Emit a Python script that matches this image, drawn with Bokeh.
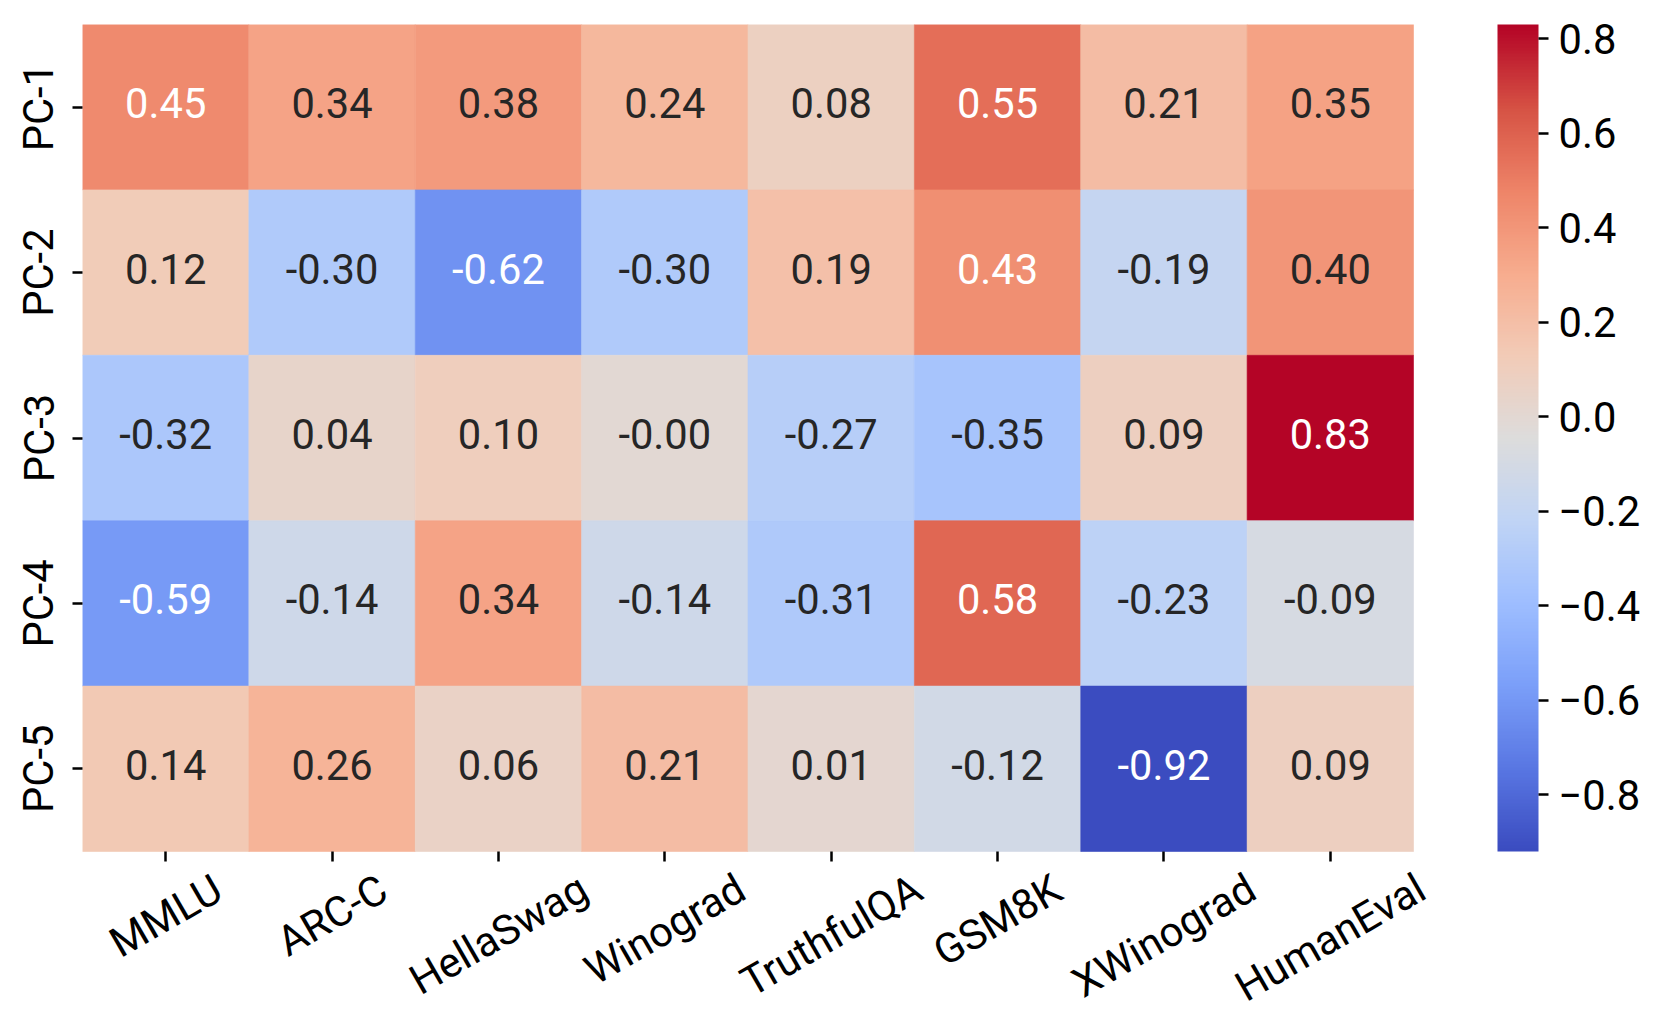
import math
from bokeh.plotting import figure
from bokeh.models import (ColumnDataSource, LinearColorMapper, ColorBar, FixedTicker,
                          CustomJSTickFormatter, LinearAxis, Range1d)
from bokeh.core.properties import value
from bokeh.embed import file_html
from bokeh.resources import INLINE

# ---------------- data ----------------
benchmarks = ["MMLU", "ARC-C", "HellaSwag", "Winograd", "TruthfulQA", "GSM8K", "XWinograd", "HumanEval"]
components = ["PC-1", "PC-2", "PC-3", "PC-4", "PC-5"]
pc1 = [0.45, 0.34, 0.38, 0.24, 0.08, 0.55, 0.21, 0.35]
pc2 = [0.12, -0.30, -0.62, -0.30, 0.19, 0.43, -0.19, 0.40]
pc3 = [-0.32, 0.04, 0.10, -0.0, -0.27, -0.35, 0.09, 0.83]
pc4 = [-0.59, -0.14, 0.34, -0.14, -0.31, 0.58, -0.23, -0.09]
pc5 = [0.14, 0.26, 0.06, 0.21, 0.01, -0.12, -0.92, 0.09]
cbar_ticks = [-0.8, -0.6, -0.4, -0.2, 0.0, 0.2, 0.4, 0.6, 0.8]

rows = [pc1, pc2, pc3, pc4, pc5]
vmin = min(min(r) for r in rows)
vmax = max(max(r) for r in rows)
ncol, nrow = len(benchmarks), len(components)

# ---------------- coolwarm palette ----------------
anchors = ["#3b4cc0", "#5977e3", "#7b9ff9", "#9ebeff", "#c0d4f5", "#dddcdc",
           "#f2cbb7", "#f7ac8e", "#ee8468", "#d65244", "#b40426"]


def hex2rgb(h):
    return tuple(int(h[i:i + 2], 16) for i in (1, 3, 5))


argb = [hex2rgb(h) for h in anchors]
palette = []
N = 256
for i in range(N):
    t = i / (N - 1) * (len(argb) - 1)
    k = min(int(t), len(argb) - 2)
    f = t - k
    c = tuple(round(argb[k][j] + (argb[k + 1][j] - argb[k][j]) * f) for j in range(3))
    palette.append("#%02x%02x%02x" % c)

mapper = LinearColorMapper(palette=palette, low=vmin, high=vmax)


def lum(hexc):
    out = []
    for c in hex2rgb(hexc):
        c = c / 255.0
        out.append(c / 12.92 if c <= 0.03928 else ((c + 0.055) / 1.055) ** 2.4)
    return 0.2126 * out[0] + 0.7152 * out[1] + 0.0722 * out[2]


def color_for(v):
    idx = int((v - vmin) / (vmax - vmin) * N)
    idx = max(0, min(N - 1, idx))
    return palette[idx]


# ---------------- layout (pixels) ----------------
W, H = 1646, 1010
ML, MT = 82, 24
HM_W, HM_H = 1331, 827          # heatmap size in px
px_x = HM_W / ncol
px_y = HM_H / nrow
frame_w = W - ML
frame_h = H - MT
fs = 41.67
FS = f"{fs}px"
TXT_SHIFT = 4 / px_y            # small upward nudge so digits are optically centred

xs, ys, ty, vals, labels, tcols = [], [], [], [], [], []
for ri, r in enumerate(rows):
    for ci, v in enumerate(r):
        xs.append(ci + 0.5)
        ys.append(nrow - ri - 0.5)
        ty.append(nrow - ri - 0.5 + TXT_SHIFT)
        vals.append(v)
        labels.append(f"{v:.2f}")
        tcols.append("#262626" if lum(color_for(v)) > 0.408 else "#ffffff")

src = ColumnDataSource(dict(x=xs, y=ys, ty=ty, v=vals, label=labels, tc=tcols))

p = figure(width=W, height=H, output_backend="svg", toolbar_location=None,
           x_range=Range1d(0, frame_w / px_x), y_range=Range1d(nrow - frame_h / px_y, nrow),
           x_axis_location=None, y_axis_location="left",
           min_border_left=ML, min_border_right=0, min_border_top=MT, min_border_bottom=0)
p.outline_line_color = None
p.xgrid.grid_line_color = None
p.ygrid.grid_line_color = None
p.background_fill_color = "white"
p.border_fill_color = "white"

p.rect(x="x", y="y", width=1, height=1, source=src,
       fill_color={"field": "v", "transform": mapper},
       line_color={"field": "v", "transform": mapper}, line_width=0.6)
p.text(x="x", y="ty", text="label", source=src, text_color="tc",
       text_align="center", text_baseline="middle",
       text_font=value("Roboto"), text_font_size=value(FS))


def style_axis(ax):
    ax.axis_line_color = None
    ax.major_tick_in = 0
    ax.major_tick_out = 10
    ax.major_tick_line_width = 2.5
    ax.major_tick_line_color = "black"
    ax.minor_tick_line_color = None
    ax.major_label_text_font = "Roboto"
    ax.major_label_text_font_size = FS
    ax.major_label_text_color = "black"


# y axis: component names
yax = p.yaxis[0]
style_axis(yax)
yax.ticker = FixedTicker(ticks=[nrow - i - 0.5 for i in range(nrow)])
yax.major_label_overrides = {nrow - i - 0.5: c for i, c in enumerate(components)}
yax.major_label_orientation = "vertical"
yax.major_label_standoff = 9

# x axis: ticks only, fixed at heatmap bottom
xax = LinearAxis(fixed_location=0, ticker=FixedTicker(ticks=[i + 0.5 for i in range(ncol)]),
                 formatter=CustomJSTickFormatter(code="return ''"))
style_axis(xax)
p.add_layout(xax, "below")

# rotated, centred x labels (rotated bbox top just under the tick)
cw = {"A": .652, "C": .636, "E": .554, "G": .665, "H": .696, "K": .613, "L": .527, "M": .852,
      "Q": .674, "R": .615, "S": .594, "T": .597, "U": .633, "W": .866, "X": .612,
      "a": .544, "d": .549, "e": .517, "g": .548, "h": .538, "i": .238, "l": .238, "m": .855,
      "n": .539, "o": .557, "r": .331, "t": .319, "u": .538, "v": .473, "w": .733, "f": .339,
      "-": .270, "8": .562}
lx, ly = [], []
for i, b in enumerate(benchmarks):
    w = sum(cw.get(ch, .55) for ch in b) * fs * 0.98
    bh = w * math.sin(math.radians(30)) + 0.72 * fs * math.cos(math.radians(30))
    lx.append(i + 0.5)
    ly.append(-(22 + bh / 2) / px_y)
lsrc = ColumnDataSource(dict(x=lx, y=ly, t=benchmarks))
p.text(x="x", y="y", text="t", source=lsrc, angle=30, angle_units="deg",
       text_align="center", text_baseline="middle",
       text_font=value("Roboto"), text_font_size=value(FS), text_color="black")

# colour bar inside the frame, right of the heatmap
cb = ColorBar(color_mapper=mapper, ticker=FixedTicker(ticks=cbar_ticks),
              formatter=CustomJSTickFormatter(code="return tick.toFixed(1).replace('-', '\\u2212')"),
              width=41, height=HM_H, padding=0, margin=0, label_standoff=10,
              location=(1415, frame_h - HM_H),
              major_tick_out=10, major_tick_in=0, major_tick_line_color="black",
              major_tick_line_width=2.5, minor_tick_line_color=None,
              major_label_text_font="Roboto", major_label_text_font_size=FS,
              major_label_text_color="black", bar_line_color=None,
              border_line_color=None, background_fill_color=None)
p.add_layout(cb)

open("out.html", "w").write(file_html(p, INLINE))
